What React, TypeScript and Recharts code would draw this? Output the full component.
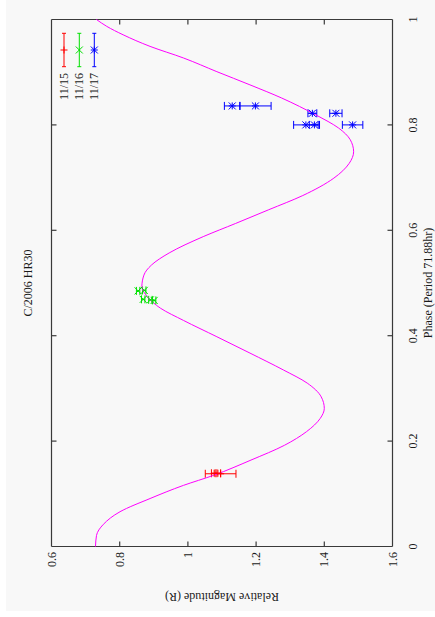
import React from 'react';
import { ComposedChart, XAxis, YAxis, Scatter, ErrorBar, Customized } from 'recharts';

// fitted light curve (phase -> relative magnitude)
const curvePhase = [
  0.0, 0.021, 0.042, 0.066, 0.091, 0.116, 0.135, 0.164, 0.192, 0.218, 0.243, 0.262, 0.284, 0.31,
  0.335, 0.367, 0.398, 0.429, 0.452, 0.474, 0.493, 0.515, 0.534, 0.557, 0.588, 0.613, 0.639,
  0.666, 0.699, 0.727, 0.749, 0.772, 0.794, 0.819, 0.851, 0.876, 0.901, 0.927, 0.949, 0.971,
  0.987, 1.0,
];
const curveMag = [
  0.729, 0.732, 0.752, 0.801, 0.889, 0.987, 1.075, 1.185, 1.283, 1.348, 1.388, 1.4, 1.391, 1.35,
  1.28, 1.182, 1.085, 0.987, 0.92, 0.881, 0.865, 0.871, 0.893, 0.945, 1.045, 1.14, 1.237,
  1.337, 1.428, 1.473, 1.486, 1.476, 1.442, 1.375, 1.275, 1.182, 1.085, 0.987, 0.889, 0.81,
  0.762, 0.732,
];

// observations
const nov15Phase = [0.139, 0.139, 0.138];
const nov15Mag = [1.077, 1.088, 1.096];
const nov15Err = [0.008, 0.008, 0.045];

const nov16Phase = [0.485, 0.486, 0.469, 0.468, 0.467];
const nov16Mag = [0.854, 0.872, 0.869, 0.89, 0.901];
const nov16Err = [0.005, 0.005, 0.005, 0.005, 0.005];

const nov17Phase = [0.836, 0.836, 0.822, 0.822, 0.8, 0.8, 0.8];
const nov17Mag = [1.13, 1.198, 1.365, 1.434, 1.346, 1.371, 1.483];
const nov17Err = [0.023, 0.046, 0.013, 0.018, 0.036, 0.015, 0.03];

const magTicks = [0.6, 0.8, 1, 1.2, 1.4, 1.6];
const phaseTicks = [0, 0.2, 0.4, 0.6, 0.8, 1];

const W = 435;
const H = 617;
const PL = 51.5;
const PR = 392.5;
const PT = 19.5;
const PB = 546.5;

const FRAME = '#3a3a3a';
const TEXT = '#1a1a1a';
const FONT = '"Liberation Serif", "DejaVu Serif", serif';
const RED = '#ff0000';
const GREEN = '#00e000';
const BLUE = '#0000ff';
const MAGENTA = '#ff00ff';
const M = 3.5; // marker half size

const toPoints = (ph: number[], mag: number[], err?: number[]) =>
  ph.map((phase, i) => ({ phase, mag: mag[i], err: err ? err[i] : 0 }));

const curveData = toPoints(curvePhase, curveMag);
const nov15 = toPoints(nov15Phase, nov15Mag, nov15Err);
const nov16 = toPoints(nov16Phase, nov16Mag, nov16Err);
const nov17 = toPoints(nov17Phase, nov17Mag, nov17Err);

const Plus = ({ cx, cy, color }: any) => (
  <g stroke={color} strokeWidth={1}>
    <line x1={cx - M} x2={cx + M} y1={cy} y2={cy} />
    <line x1={cx} x2={cx} y1={cy - M} y2={cy + M} />
  </g>
);
const Cross = ({ cx, cy, color }: any) => (
  <g stroke={color} strokeWidth={1}>
    <line x1={cx - M} x2={cx + M} y1={cy - M} y2={cy + M} />
    <line x1={cx - M} x2={cx + M} y1={cy + M} y2={cy - M} />
  </g>
);
const Star = ({ cx, cy, color }: any) => (
  <g>
    <Plus cx={cx} cy={cy} color={color} />
    <Cross cx={cx} cy={cy} color={color} />
  </g>
);

const BottomTick = ({ x, payload }: any) => {
  const v = payload.value;
  const inner = v > 0.61 && v < 1.59;
  return (
    <g>
      {inner && (
        <g stroke={FRAME} strokeWidth={1.2}>
          <line x1={x} x2={x} y1={PB} y2={PB - 5} />
          <line x1={x} x2={x} y1={PT} y2={PT + 5} />
        </g>
      )}
      <text
        transform={`translate(${x},552) rotate(-90)`}
        textAnchor="end"
        dominantBaseline="central"
        fontFamily={FONT}
        fontSize={12}
        fill={TEXT}
      >
        {String(v)}
      </text>
    </g>
  );
};

const RightTick = ({ y, payload }: any) => {
  const v = payload.value;
  const inner = v > 0.01 && v < 0.99;
  return (
    <g>
      {inner && (
        <g stroke={FRAME} strokeWidth={1.2}>
          <line x1={PR} x2={PR - 5} y1={y} y2={y} />
          <line x1={PL} x2={PL + 5} y1={y} y2={y} />
        </g>
      )}
      <text
        transform={`translate(413,${y}) rotate(-90)`}
        textAnchor="middle"
        dominantBaseline="central"
        fontFamily={FONT}
        fontSize={12}
        fill={TEXT}
      >
        {String(v)}
      </text>
    </g>
  );
};

const legendItems = [
  { label: '11/15', color: RED, x: 64, Mark: Plus },
  { label: '11/16', color: GREEN, x: 79.3, Mark: Cross },
  { label: '11/17', color: BLUE, x: 94.3, Mark: Star },
];

const Overlay = () => (
  <g fontFamily={FONT}>
    <g stroke={FRAME} strokeWidth={1.2}>
      <line x1={PL} x2={PR} y1={PT} y2={PT} />
      <line x1={PL} x2={PR} y1={PB} y2={PB} />
      <line x1={PL} x2={PL} y1={PT} y2={PB} />
      <line x1={PR} x2={PR} y1={PT} y2={PB} />
    </g>
    <text
      transform={`translate(28,${(PT + PB) / 2}) rotate(-90)`}
      textAnchor="middle"
      dominantBaseline="central"
      fontSize={12}
      fill={TEXT}
    >
      C/2006 HR30
    </text>
    <text
      transform={`translate(428,${(PT + PB) / 2}) rotate(-90)`}
      textAnchor="middle"
      dominantBaseline="central"
      fontSize={12}
      fill={TEXT}
    >
      Phase (Period 71.88hr)
    </text>
    <text
      transform={`translate(${(PL + PR) / 2},597) rotate(180)`}
      textAnchor="middle"
      dominantBaseline="central"
      fontSize={12}
      fill={TEXT}
    >
      Relative Magnitude (R)
    </text>
    {legendItems.map(({ label, color, x, Mark }) => (
      <g key={label}>
        <g stroke={color} strokeWidth={1}>
          <line x1={x} x2={x} y1={33.3} y2={66.7} />
          <line x1={x - 2} x2={x + 2} y1={33.3} y2={33.3} />
          <line x1={x - 2} x2={x + 2} y1={66.7} y2={66.7} />
        </g>
        <Mark cx={x} cy={50} color={color} />
        <text
          transform={`translate(${x},73) rotate(-90)`}
          textAnchor="end"
          dominantBaseline="central"
          fontSize={12}
          fill={TEXT}
        >
          {label}
        </text>
      </g>
    ))}
  </g>
);

export default function App() {
  return (
    <div style={{ position: 'absolute', left: 0, top: 0, width: W, height: H, background: '#fff' }}>
      <div style={{ position: 'absolute', left: 6, top: 0, width: W - 6, height: 611, background: '#f8f8f8' }} />
      <div style={{ position: 'absolute', left: 0, top: 0 }}>
        <ComposedChart
          width={W}
          height={H}
          margin={{ left: PL, top: PT, right: W - PR - 30, bottom: H - PB - 30 }}
        >
          <XAxis
            type="number"
            dataKey="mag"
            domain={[0.6, 1.6]}
            ticks={magTicks}
            interval={0}
            height={30}
            axisLine={false}
            tickLine={false}
            tick={(p: any) => <BottomTick {...p} />}
          />
          <YAxis
            orientation="right"
            type="number"
            dataKey="phase"
            domain={[0, 1]}
            ticks={phaseTicks}
            interval={0}
            width={30}
            axisLine={false}
            tickLine={false}
            tick={(p: any) => <RightTick {...p} />}
          />
          <Scatter
            data={curveData}
            line={{ stroke: MAGENTA, strokeWidth: 1 }}
            lineJointType="monotoneY"
            shape={() => <g />}
            isAnimationActive={false}
          />
          <Scatter
            data={nov15}
            shape={(p: any) => <Plus cx={p.cx} cy={p.cy} color={RED} />}
            isAnimationActive={false}
          >
            <ErrorBar dataKey="err" direction="x" width={4} stroke={RED} strokeWidth={1} isAnimationActive={false} />
          </Scatter>
          <Scatter
            data={nov16}
            shape={(p: any) => <Cross cx={p.cx} cy={p.cy} color={GREEN} />}
            isAnimationActive={false}
          >
            <ErrorBar dataKey="err" direction="x" width={4} stroke={GREEN} strokeWidth={1} isAnimationActive={false} />
          </Scatter>
          <Scatter
            data={nov17}
            shape={(p: any) => <Star cx={p.cx} cy={p.cy} color={BLUE} />}
            isAnimationActive={false}
          >
            <ErrorBar dataKey="err" direction="x" width={4} stroke={BLUE} strokeWidth={1} isAnimationActive={false} />
          </Scatter>
          <Customized component={<Overlay />} />
        </ComposedChart>
      </div>
    </div>
  );
}
